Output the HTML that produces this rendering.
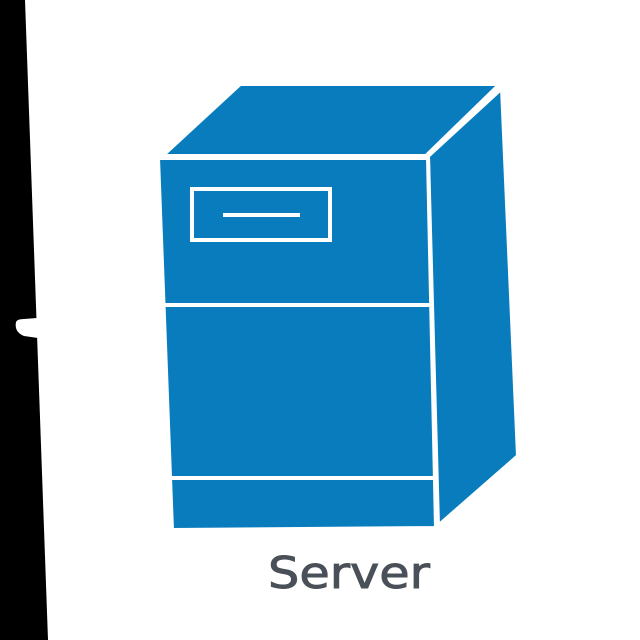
<!DOCTYPE html>
<html><head><style>
html,body{margin:0;padding:0;background:#fff;}
body{width:640px;height:640px;overflow:hidden;position:relative;}
</style></head><body>
<svg width="640" height="640" viewBox="0 0 640 640" xmlns="http://www.w3.org/2000/svg" style="position:absolute;left:0;top:0">
<rect width="640" height="640" fill="#fff"/>
<polygon points="0,0 25,0 48,640 0,640" fill="#000"/>
<path d="M16,322 Q14,332 24,336 L38,338 L37,318 L24,319 Q17,319 16,322 Z" fill="#fff"/>
<g fill="#097cbd" stroke="#fff" stroke-width="4" stroke-linejoin="miter">
<polygon points="162,156 240,84 500,84 426,156"/>
<polygon points="428,156 502,88 518,456 438,526"/>
<polygon points="158,158 428,158 436,528 172,530"/>
<line x1="162" y1="305" x2="432" y2="305"/>
<line x1="170" y1="478" x2="436" y2="478"/>
<rect x="192" y="189" width="138" height="51" fill="none"/>
<line x1="223" y1="215" x2="300" y2="215"/>
</g>
<text x="349" y="588" text-anchor="middle" font-family="DejaVu Sans, sans-serif" font-size="44" fill="#4a5058" stroke="#4a5058" stroke-width="0.9" textLength="162" lengthAdjust="spacingAndGlyphs">Server</text>
</svg>
</body></html>
